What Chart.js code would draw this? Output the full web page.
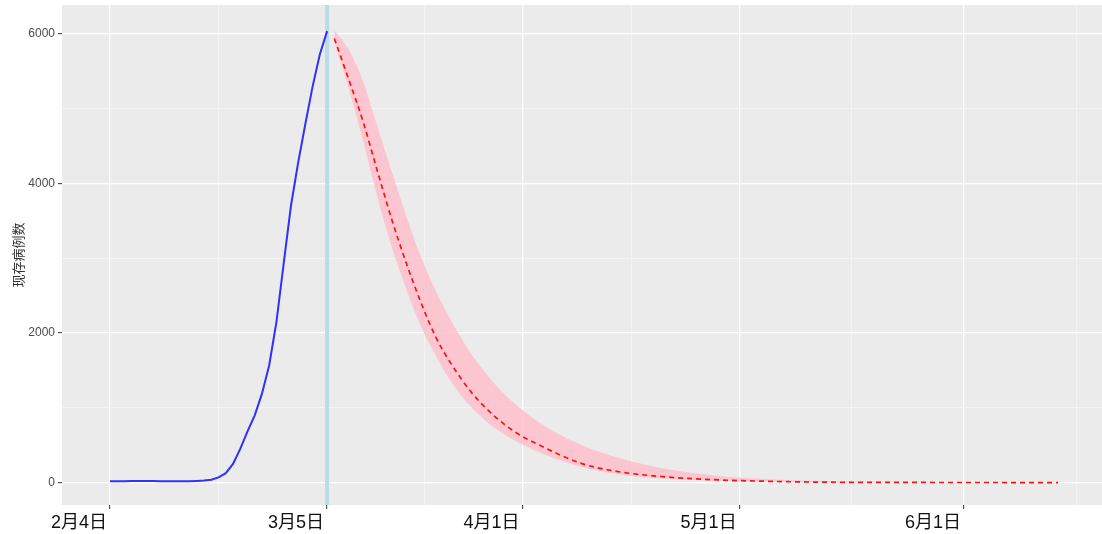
<!DOCTYPE html>
<html>
<head>
<meta charset="utf-8">
<script src="https://cdn.jsdelivr.net/npm/chart.js@4/dist/chart.umd.min.js"></script>
<style>
  html, body { margin: 0; background: #fff; }
  #wrap { width: 1102px; height: 534px; position: relative; }
</style>
</head>
<body>
<div id="wrap"><canvas id="chart"></canvas></div>
<script>
// days counted from 2月4日 (day 0)
const obsDays = [0,1,2,3,4,5,6,7,8,9,10,11,12,13,14,15,16,17,18,19,20,21,22,23,24,25,26,27,28,29,30];
const obsCases = [18,18,18,20,20,22,20,18,18,18,18,18,22,28,38,70,125,250,450,685,900,1190,1570,2150,2930,3700,4280,4800,5300,5730,6040];

// prediction (sampled days)
const predDays = [31,33,35,37,39,41,43,45,47,50,53,56,60,65,70,76,81,86,92,97,109,120,131];
const predMid  = [5940,5390,4820,4150,3500,2920,2400,1950,1610,1200,900,675,470,260,150,82,50,29,15,7,2,1,0];
const predLow  = [5900,5270,4560,3800,3130,2570,2080,1700,1370,1000,740,560,380,215,115,58,35,20,10,5,1,0,0];
const predHigh = [6050,5790,5360,4750,4140,3550,3010,2570,2190,1710,1340,1050,760,510,340,200,125,70,40,24,8,3,1];

const cutoffDay = 30;

const xTickDays = [0, 30, 57, 87, 118];
const xTickLabels = ['2月4日', '3月5日', '4月1日', '5月1日', '6月1日'];
const yTicks = [0, 2000, 4000, 6000];

const X_MIN = -6.63, X_MAX = 137.07;
const Y_MIN = -300, Y_MAX = 6389;

// minor grid positions halfway between major breaks (ggplot style)
const step = xTickDays[xTickDays.length - 1] - xTickDays[xTickDays.length - 2];
const xMinor = [];
for (let i = 0; i < xTickDays.length - 1; i++) xMinor.push((xTickDays[i] + xTickDays[i + 1]) / 2);
xMinor.push(xTickDays[xTickDays.length - 1] + step / 2);
const yMinor = [1000, 3000, 5000];

const pts = (xs, ys) => xs.map((x, i) => ({ x: x, y: ys[i] }));

const panelBg = {
  id: 'panelBg',
  beforeDraw(chart) {
    const { ctx, chartArea: a } = chart;
    ctx.save();
    ctx.fillStyle = '#EBEBEB';
    ctx.fillRect(a.left, a.top, a.right - a.left, a.bottom - a.top);
    ctx.restore();
  }
};

const isMajorX = c => c.tick && xTickDays.includes(c.tick.value);
const isMajorY = c => c.tick && yTicks.includes(c.tick.value);

new Chart(document.getElementById('chart'), {
  type: 'line',
  data: {
    datasets: [
      {
        label: '预测',
        data: pts(predDays, predMid),
        borderColor: '#ff1010',
        borderWidth: 1.7,
        borderDash: [5, 4],
        pointRadius: 0,
        cubicInterpolationMode: 'monotone',
        fill: false,
        order: 0
      },
      {
        label: '现存病例数',
        data: pts(obsDays, obsCases),
        borderColor: '#3030ff',
        borderWidth: 2,
        pointRadius: 0,
        tension: 0,
        fill: false,
        order: 1
      },
      {
        label: 'lower',
        data: pts(predDays, predLow),
        borderWidth: 0,
        borderColor: 'rgba(0,0,0,0)',
        pointRadius: 0,
        cubicInterpolationMode: 'monotone',
        fill: false,
        order: 4
      },
      {
        label: 'upper',
        data: pts(predDays, predHigh),
        borderWidth: 0,
        borderColor: 'rgba(0,0,0,0)',
        backgroundColor: 'rgba(255,192,203,0.85)',
        pointRadius: 0,
        cubicInterpolationMode: 'monotone',
        fill: '-1',
        order: 3
      },
      {
        label: 'cutoff',
        data: [{ x: cutoffDay, y: Y_MIN }, { x: cutoffDay, y: Y_MAX }],
        borderColor: '#B9DCE6',
        borderWidth: 4,
        pointRadius: 0,
        fill: false,
        order: 2
      }
    ]
  },
  options: {
    responsive: true,
    maintainAspectRatio: false,
    devicePixelRatio: 1,
    animation: false,
    layout: { padding: { top: 5, right: 0, bottom: 0, left: 0 } },
    plugins: { legend: { display: false }, tooltip: { enabled: false } },
    scales: {
      x: {
        type: 'linear',
        min: X_MIN,
        max: X_MAX,
        afterBuildTicks: s => { s.ticks = xTickDays.concat(xMinor).sort((a, b) => a - b).map(v => ({ value: v })); },
        afterFit: s => { s.height = 29; s.paddingLeft = 0; s.paddingRight = 0; },
        border: { display: false },
        grid: {
          color: c => isMajorX(c) ? '#FFFFFF' : '#F6F6F6',
          lineWidth: c => isMajorX(c) ? 1.3 : 0.8,
          tickColor: c => isMajorX(c) ? '#333333' : 'rgba(0,0,0,0)',
          tickLength: 4,
          tickWidth: 1
        },
        ticks: {
          autoSkip: false,
          maxRotation: 0,
          minRotation: 0,
          align: 'end',
          labelOffset: -3,
          padding: 3,
          color: '#111111',
          font: { family: "'Liberation Sans', 'Noto Sans CJK SC', sans-serif", size: 18 },
          callback: v => { const i = xTickDays.indexOf(v); return i >= 0 ? xTickLabels[i] : ''; }
        }
      },
      y: {
        type: 'linear',
        min: Y_MIN,
        max: Y_MAX,
        afterBuildTicks: s => { s.ticks = yTicks.concat(yMinor).sort((a, b) => a - b).map(v => ({ value: v })); },
        afterFit: s => { s.width = 62; s.paddingTop = 0; s.paddingBottom = 0; },
        border: { display: false },
        grid: {
          color: c => isMajorY(c) ? '#FFFFFF' : '#F6F6F6',
          lineWidth: c => isMajorY(c) ? 1.3 : 0.8,
          tickColor: c => isMajorY(c) ? '#333333' : 'rgba(0,0,0,0)',
          tickLength: 4,
          tickWidth: 1
        },
        ticks: {
          autoSkip: false,
          padding: 3,
          color: '#4D4D4D',
          font: { family: "'Liberation Sans', Arial, sans-serif", size: 12 },
          callback: v => yTicks.includes(v) ? String(v) : ''
        },
        title: {
          display: true,
          text: '现存病例数',
          color: '#333333',
          padding: { top: 10, bottom: 0 },
          font: { family: "'Noto Sans CJK SC', sans-serif", size: 13 }
        }
      }
    }
  },
  plugins: [panelBg]
});
</script>
</body>
</html>
